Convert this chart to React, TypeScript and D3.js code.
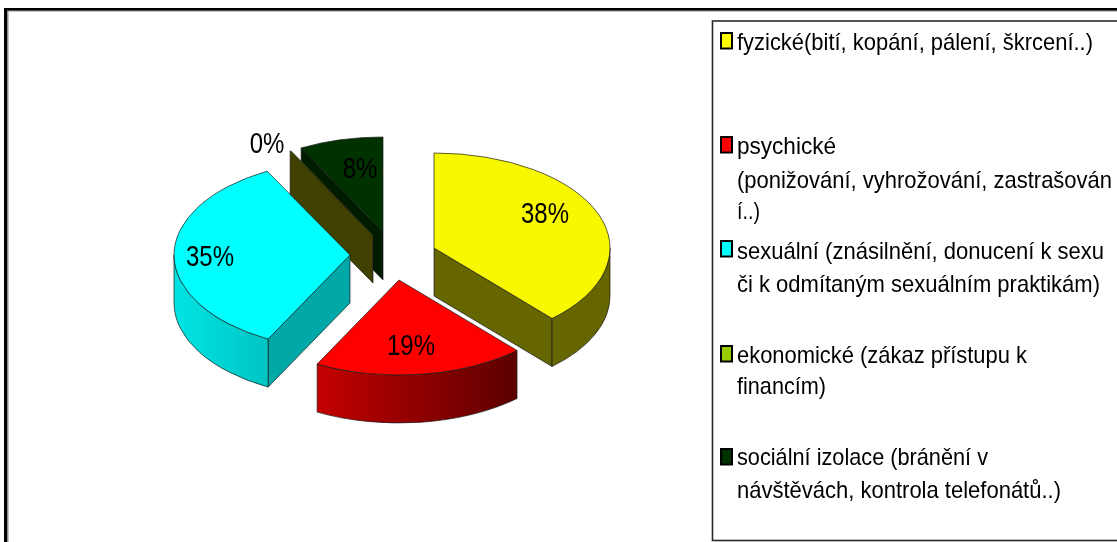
import React from "react";
import * as d3 from "d3";

const WIDTH = 1117;
const HEIGHT = 542;

// Data
const categories = ["fyzické", "psychické", "sexuální", "ekonomické", "sociální izolace"];
const shares = [38.3, 19.4, 34.5, 0.1, 7.7];
const shareLabels = ["38%", "19%", "35%", "0%", "8%"];
const legendLines = [
  ["fyzické(bití, kopání, pálení, škrcení..)"],
  ["psychické", "(ponižování, vyhrožování, zastrašován", "í..)"],
  ["sexuální (znásilnění, donucení k sexu", "či k odmítaným sexuálním praktikám)"],
  ["ekonomické (zákaz přístupu k", "financím)"],
  ["sociální izolace (bránění v", "návštěvách, kontrola telefonátů..)"],
];

// Styles
const topColors = ["#f8f800", "#ff0000", "#00ffff", "#99cc00", "#003300"];
const wallColors = ["#666600", "#600000", "#00a8a8", "#404000", "#001a00"];
const rimFills = ["#666600", "url(#rimRed)", "url(#rimCyan)", "#404000", "#001a00"];
const legendSwatches = ["#ffff00", "#ff0000", "#00ffff", "#99cc00", "#003300"];

// Layout
const apexes = [[434, 248], [399, 280], [350, 255], [373, 235], [383, 232]];
const rx = 176;
const ry = 95;
const depth = 48;
const drawOrder = [4, 3, 2, 0, 1];
const labelAnchors = [[545, 223], [411, 355], [210, 266], [267, 153], [360, 178]];
const legendBaselines = [[50], [154, 188, 219], [259, 292], [363, 394], [465, 498]];
const legendWidths = [[356], [99, 375, 23], [367, 363], [290, 89], [251, 324]];
const swatchTops = [33, 137, 241, 346, 449];

const arcs = d3
  .pie<number>()
  .sort(null)
  .startAngle(0)
  .endAngle(2 * Math.PI)(shares);

const TAU = 2 * Math.PI;

function pt(c: number[], a: number, dy = 0): [number, number] {
  return [c[0] + rx * Math.sin(a), c[1] - ry * Math.cos(a) + dy];
}

function ell(c: number[], a0: number, a1: number, dy: number, reverse = false) {
  const [x, y] = pt(c, reverse ? a0 : a1, dy);
  const large = Math.abs(a1 - a0) > Math.PI ? 1 : 0;
  return `A${rx},${ry} 0 ${large} ${reverse ? 0 : 1} ${x},${y}`;
}

function topPath(c: number[], a0: number, a1: number) {
  const s = pt(c, a0);
  return `M${c[0]},${c[1]}L${s[0]},${s[1]}${ell(c, a0, a1, 0)}Z`;
}

function wallPath(c: number[], a: number) {
  const line = d3.line();
  const p = pt(c, a);
  return (
    line([
      [c[0], c[1]],
      p,
      [p[0], p[1] + depth],
      [c[0], c[1] + depth],
    ]) + "Z"
  );
}

function rimPath(c: number[], a0: number, a1: number) {
  const lo = Math.max(a0, Math.PI / 2);
  const hi = Math.min(a1, (3 * Math.PI) / 2);
  if (hi <= lo) return null;
  const s = pt(c, lo);
  const e = pt(c, hi, depth);
  return `M${s[0]},${s[1]}${ell(c, lo, hi, 0)}L${e[0]},${e[1]}${ell(c, lo, hi, depth, true)}Z`;
}

const inFront = (a: number) => a > 0.001 && a < Math.PI;
const inBack = (a: number) => a > Math.PI && a < TAU - 0.001;

const FONT = "'Liberation Sans', Arial, sans-serif";
const EDGE = "#1a1a1a";

export default function App() {
  return (
    <svg
      width={WIDTH}
      height={HEIGHT}
      viewBox={`0 0 ${WIDTH} ${HEIGHT}`}
      style={{ position: "absolute", left: 0, top: 0, background: "#fff" }}
    >
      <defs>
        <filter id="soft" x="-5%" y="-5%" width="110%" height="110%">
          <feGaussianBlur stdDeviation="0.45" />
        </filter>
        <linearGradient id="rimRed" gradientUnits="userSpaceOnUse" x1="317" x2="516" y1="0" y2="0">
          <stop offset="0" stopColor="#c40000" />
          <stop offset="1" stopColor="#5c0000" />
        </linearGradient>
        <linearGradient id="rimCyan" gradientUnits="userSpaceOnUse" x1="174" x2="268" y1="0" y2="0">
          <stop offset="0" stopColor="#00e4e4" />
          <stop offset="1" stopColor="#00c4c4" />
        </linearGradient>
      </defs>

      {/* outer frame */}
      <g>
        <rect x={8} y={10} width={WIDTH - 8} height={1.5} fill="#8c8c8c" />
        <rect x={7} y={10} width={1.5} height={HEIGHT - 10} fill="#8c8c8c" />
        <rect x={4} y={8} width={WIDTH - 4} height={2.4} fill="#000" />
        <rect x={4} y={8} width={3} height={HEIGHT - 8} fill="#000" />
      </g>

      {/* pie */}
      <g filter="url(#soft)">
        {drawOrder.map((i) => {
          const c = apexes[i];
          const { startAngle: a0, endAngle: a1 } = arcs[i];
          const rim = rimPath(c, a0, a1);
          return (
            <g key={categories[i]} stroke={EDGE} strokeWidth={0.7} strokeLinejoin="round">
              {inBack(a0) && <path d={wallPath(c, a0)} fill={wallColors[i]} />}
              {inFront(a1) && <path d={wallPath(c, a1)} fill={wallColors[i]} />}
              {rim && <path d={rim} fill={rimFills[i]} />}
              <path d={topPath(c, a0, a1)} fill={topColors[i]} />
            </g>
          );
        })}
        {shareLabels.map((t, i) => (
          <text
            key={t}
            transform={`translate(${labelAnchors[i][0]},${labelAnchors[i][1]}) scale(1,1.2)`}
            textAnchor="middle"
            fontFamily={FONT}
            fontSize={24}
            fill="#000"
          >
            {t}
          </text>
        ))}
      </g>

      {/* legend */}
      <rect x={712.5} y={21} width={WIDTH} height={519.5} fill="#fff" stroke="#2a2a2a" strokeWidth={1.6} />
      <g filter="url(#soft)">
        {categories.map((name, i) => (
          <g key={name}>
            <rect x={721} y={swatchTops[i]} width={11} height={15.5} fill={legendSwatches[i]} stroke="#000" strokeWidth={2} />
            {legendLines[i].map((line, j) => (
              <text
                key={line}
                transform={`translate(737,${legendBaselines[i][j]}) scale(1,1.2)`}
                fontFamily={FONT}
                fontSize={20}
                fill="#000"
                textLength={legendWidths[i][j]}
                lengthAdjust="spacingAndGlyphs"
              >
                {line}
              </text>
            ))}
          </g>
        ))}
      </g>
    </svg>
  );
}
